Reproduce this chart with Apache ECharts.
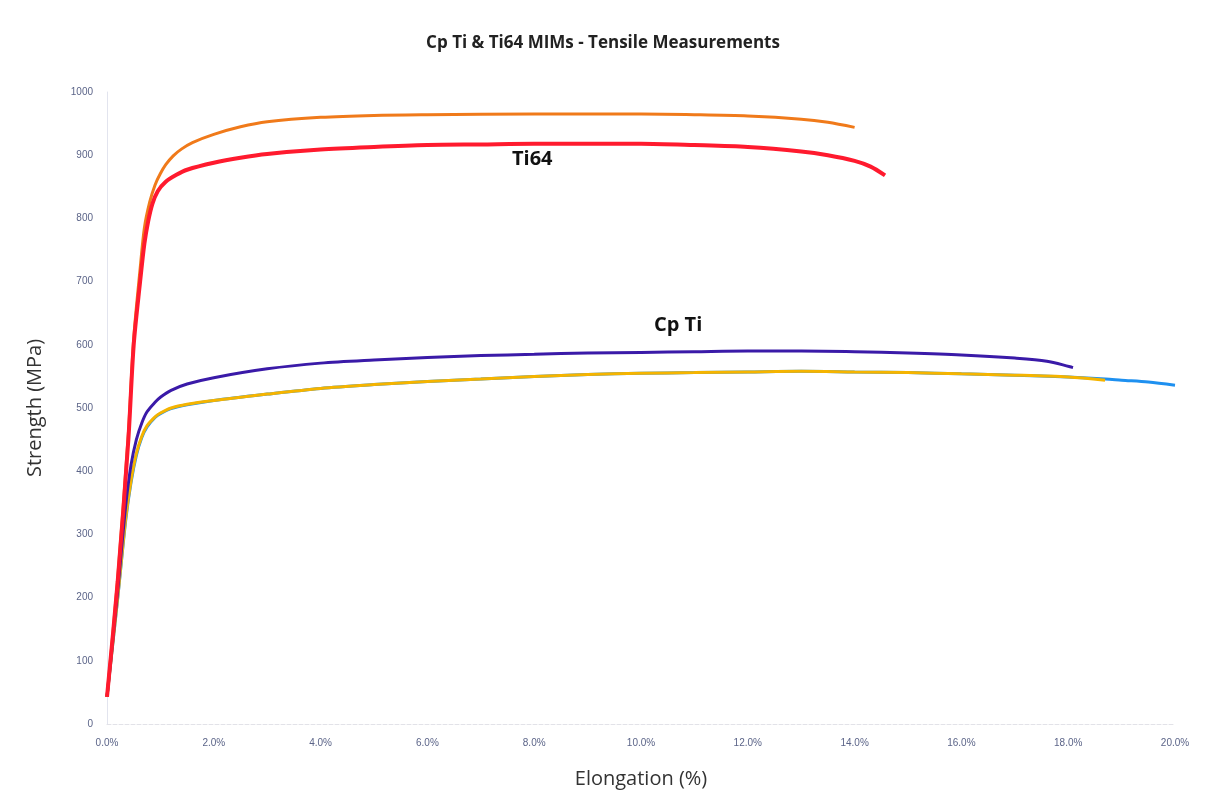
<!DOCTYPE html>
<html>
<head>
<meta charset="utf-8">
<script src="https://cdn.jsdelivr.net/npm/echarts@6/dist/echarts.min.js"></script>
<style>
  html, body { margin: 0; padding: 0; background: #fff; }
  #chart { width: 1206px; height: 794px; }
</style>
</head>
<body>
<div id="chart"></div>
<script>
// Elongation (%) vs strength (MPa)
var ti64A = [[0,43],[0.2,230],[0.4,460],[0.5,610],[0.62,720],[0.7,785],[0.8,826],[0.9,853],[1.0,871],[1.1,885],[1.24,899],[1.4,910],[1.6,920],[2,933],[2.5,945],[3,953],[4,960],[5,963],[6,964],[8,965],[10,965],[11,964],[12,962],[13,957],[13.5,952],[14,944]];
var ti64B = [[0,43],[0.2,225],[0.4,450],[0.5,600],[0.62,700],[0.7,760],[0.77,795],[0.85,823],[0.95,843],[1.1,858],[1.3,869],[1.5,877],[2,888],[2.5,896],[3,902],[4,909],[5,913],[6,916],[7,917],[8,918],[9,918],[10,918],[11,916],[12,913],[13,906],[13.5,900],[14,891],[14.3,882],[14.57,868]];
var cpTiA = [[0,43],[0.2,210],[0.35,345],[0.45,410],[0.55,450],[0.65,476],[0.75,494],[0.9,509],[1.0,517],[1.2,528],[1.5,538],[2,548],[3,562],[4,571],[5,576],[6,580],[7,583],[8,585],[9,587],[10,588],[11,589],[12,590],[13,590],[14,589],[15,587],[16,584],[17,579],[17.6,574],[18.09,564]];
var cpTiB = [[0,43],[0.2,200],[0.35,325],[0.45,385],[0.55,428],[0.65,455],[0.75,472],[0.9,486],[1.0,492],[1.2,500],[1.5,506],[2,512],[3,522],[4,531],[5,537],[6,542],[7,546],[8,550],[9,553],[10,555],[11,556],[12,557],[13,558],[14,557],[15,556],[16,554],[17,552],[18,549],[18.69,544]];
var cpTiC = [[0,43],[0.2,198],[0.35,322],[0.45,382],[0.55,425],[0.65,453],[0.75,470],[0.9,485],[1.0,491],[1.2,499],[1.5,505],[2,512],[3,522],[4,531],[5,537],[6,542],[7,546],[8,550],[9,553],[10,555],[11,556],[12,557],[13,558],[14,557],[15,556],[16,554],[17,552],[18,549],[18.7,546],[19,544],[19.5,541],[20,536]];

var chart = echarts.init(document.getElementById('chart'));

function lineSeries(name, data, color, width) {
  return {
    name: name,
    type: 'line',
    data: data,
    showSymbol: false,
    smooth: 0.3,
    lineStyle: { color: color, width: width },
    itemStyle: { color: color },
    animation: false
  };
}

var option = {
  backgroundColor: '#ffffff',
  title: {
    text: 'Cp Ti & Ti64 MIMs - Tensile Measurements',
    left: 'center',
    top: 30,
    textStyle: { fontFamily: 'Open Sans', fontSize: 17, fontWeight: 'bold', color: '#222' }
  },
  grid: { left: 107, right: 31, top: 92, bottom: 69 },
  xAxis: {
    type: 'value',
    min: 0, max: 20, interval: 2,
    name: 'Elongation (%)',
    nameLocation: 'middle',
    nameGap: 45,
    nameTextStyle: { fontFamily: 'Open Sans', fontSize: 20, color: '#333' },
    axisLine: { lineStyle: { color: '#e2e2e8', width: 1, type: 'dashed' } },
    axisTick: { show: false },
    splitLine: { show: false },
    axisLabel: {
      margin: 14,
      fontFamily: 'Liberation Sans', fontSize: 10, color: '#5b6488',
      formatter: function (v) { return v.toFixed(1) + '%'; }
    }
  },
  yAxis: {
    type: 'value',
    min: 0, max: 1000, interval: 100,
    name: 'Strength (MPa)',
    nameLocation: 'middle',
    nameGap: 62,
    nameTextStyle: { fontFamily: 'Open Sans', fontSize: 20, color: '#333' },
    axisLine: { show: true, lineStyle: { color: '#e2e4ee', width: 1 } },
    axisTick: { show: false },
    splitLine: { show: false },
    axisLabel: {
      margin: 14, fontFamily: 'Liberation Sans', fontSize: 10, color: '#5b6488',
      formatter: function (v) { return String(v); }
    }
  },
  graphic: [
    { type: 'text', left: 512, top: 149, style: { text: 'Ti64', font: 'bold 20px "Open Sans"', fill: '#111' } },
    { type: 'text', left: 654, top: 315, style: { text: 'Cp Ti', font: 'bold 20px "Open Sans"', fill: '#111' } }
  ],
  series: [
    lineSeries('Cp Ti C', cpTiC, '#1e90f0', 3),
    lineSeries('Cp Ti B', cpTiB, '#f5b400', 3),
    lineSeries('Cp Ti A', cpTiA, '#3a1aa8', 3),
    lineSeries('Ti64 A', ti64A, '#f07a1a', 3),
    lineSeries('Ti64 B', ti64B, '#ff1a2e', 4)
  ]
};

chart.setOption(option);
</script>
</body>
</html>
